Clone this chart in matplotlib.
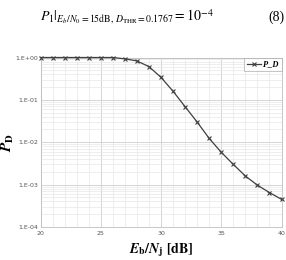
import matplotlib
matplotlib.use("Agg")
import matplotlib.pyplot as plt
from matplotlib.ticker import FixedLocator, NullFormatter, LogLocator

plt.rcParams['mathtext.fontset'] = 'stix'

eb_nj = [20, 21, 22, 23, 24, 25, 26, 27, 28, 29, 30, 31, 32, 33, 34, 35, 36, 37, 38, 39, 40]
p_d = [1.0, 1.0, 1.0, 1.0, 1.0, 1.0, 1.0, 0.93, 0.83, 0.61, 0.34, 0.16, 0.069, 0.030,
       0.0123, 0.0058, 0.0030, 0.0016, 0.00097, 0.00065, 0.00045]
y_ticks = [1.0, 0.1, 0.01, 0.001, 0.0001]
y_tick_labels = ["1.E+00", "1.E-01", "1.E-02", "1.E-03", "1.E-04"]
x_ticks = [20, 25, 30, 35, 40]
x_tick_labels = ["20", "25", "30", "35", "40"]

fig = plt.figure(figsize=(2.86, 2.60), dpi=100)
ax = fig.add_axes([40.5/286, 1-227/260, (281.5-40.5)/286, (227-57.5)/260])

ax.plot(eb_nj, p_d, color='#404040', lw=0.9, marker='x', ms=3.5, mew=0.8, label='P_D',
        clip_on=False, zorder=3)
ax.set_yscale('log')
ax.set_xlim(20, 40)
ax.set_ylim(1e-4, 1.0)

ax.set_xticks(x_ticks)
ax.set_xticklabels(x_tick_labels)
ax.xaxis.set_minor_locator(FixedLocator(list(range(20, 41))))
ax.set_yticks(y_ticks)
ax.set_yticklabels(y_tick_labels)
ax.yaxis.set_minor_locator(LogLocator(base=10, subs=[2, 3, 4, 5, 6, 7, 8, 9], numticks=20))
ax.yaxis.set_minor_formatter(NullFormatter())

ax.grid(which='major', color='#cfcfcf', lw=0.6)
ax.grid(which='minor', color='#e8e8e8', lw=0.5)
ax.set_axisbelow(True)
ax.tick_params(which='both', length=0, labelsize=4.5, labelcolor='#555555', pad=3)
ax.tick_params(axis='y', pad=2)
for s in ax.spines.values():
    s.set_color('#bfbfbf')
    s.set_linewidth(0.6)

ax.set_xlabel(r'$\mathbfit{E}_{\mathbf{b}}\mathbf{/}\mathbfit{N}_{\mathbf{j}}\ \mathbf{[dB]}$', fontsize=10, labelpad=4)
ax.set_ylabel(r'$\mathbfit{P}_{\mathbf{D}}$', fontsize=11)
ax.yaxis.set_label_coords(-0.1, 0.5)

leg = ax.legend(loc='upper right', borderaxespad=0, fancybox=False, handlelength=1.6,
                handletextpad=0.3, borderpad=0.35, prop={'family': 'Liberation Serif', 'weight': 'bold', 'style': 'italic', 'size': 6})
leg.get_frame().set_edgecolor('#aaaaaa')
leg.get_frame().set_linewidth(0.6)

fig.text(40/286, 1-17/260, r'$P_1|_{E_b/N_0=15\mathrm{dB},\,D_{\mathrm{THR}}=0.1767}=10^{-4}$',
         fontsize=10, va='center', ha='left')
fig.text(268/286, 1-17/260, '(8)', fontsize=10, family='Liberation Serif', va='center', ha='left')

fig.savefig('out.png', dpi=100)
